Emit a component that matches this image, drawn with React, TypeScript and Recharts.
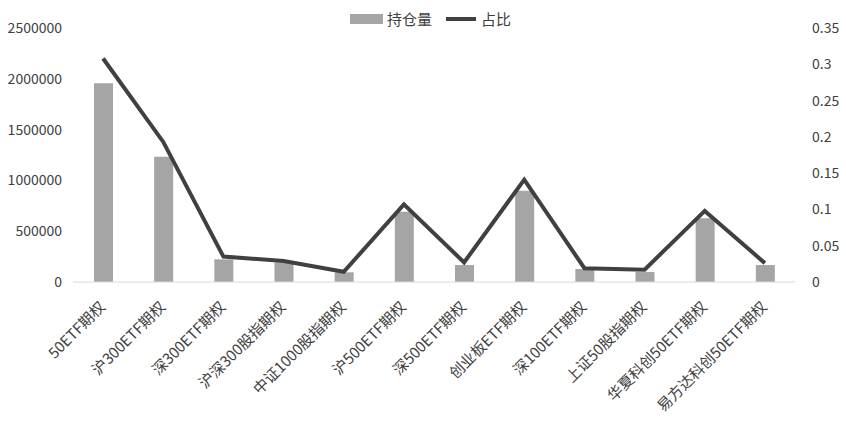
import React from 'react';
import { ComposedChart, Bar, Line, XAxis, YAxis } from 'recharts';

const categories = [
  '50ETF期权', '沪300ETF期权', '深300ETF期权', '沪深300股指期权', '中证1000股指期权', '沪500ETF期权',
  '深500ETF期权', '创业板ETF期权', '深100ETF期权', '上证50股指期权', '华夏科创50ETF期权', '易方达科创50ETF期权',
];
const holdings = [1955000, 1233000, 223000, 192000, 95000, 692000, 167000, 899000, 128000, 98000, 627000, 167000];
const shares = [0.308, 0.193, 0.035, 0.029, 0.014, 0.107, 0.027, 0.141, 0.019, 0.017, 0.098, 0.026];
const leftTicks = [0, 500000, 1000000, 1500000, 2000000, 2500000];
const rightTicks = [0, 0.05, 0.1, 0.15, 0.2, 0.25, 0.3, 0.35];
const seriesNames = ['持仓量', '占比'];

const data = categories.map((name, i) => ({ name, holding: holdings[i], share: shares[i] }));

const FONT = "'Noto Sans CJK SC', sans-serif";
const TEXT = '#404040';

const LegendBox = () => (
  <div style={{ position: 'absolute', left: 350, top: 9, display: 'flex', alignItems: 'center', fontFamily: FONT, fontSize: 15, color: TEXT, lineHeight: '20px' }}>
    <span style={{ display: 'inline-block', width: 33, height: 10, background: '#a5a5a5', marginRight: 4 }} />
    <span>{seriesNames[0]}</span>
    <span style={{ display: 'inline-block', width: 30, height: 4, background: '#404040', marginLeft: 14, marginRight: 5 }} />
    <span>{seriesNames[1]}</span>
  </div>
);

const XTick = (props: any) => {
  const { x, y, payload } = props;
  const ax = x + 3;
  const ay = y + 18;
  return (
    <text x={ax} y={ay} transform={`rotate(-45, ${ax}, ${ay})`} textAnchor="end" fontSize={15} fill={TEXT} fontFamily={FONT}>
      {payload.value}
    </text>
  );
};

export default function App() {
  return (
    <div style={{ position: 'absolute', left: 0, top: 0, width: 846, height: 428, background: '#fff' }}>
      <ComposedChart width={846} height={428} data={data} margin={{ top: 28, right: 0, bottom: 0, left: 0 }}>
        <XAxis
          dataKey="name"
          interval={0}
          height={146}
          tick={<XTick />}
          tickLine={false}
          axisLine={{ stroke: '#d9d9d9', strokeWidth: 1 }}
        />
        <YAxis
          yAxisId="left"
          orientation="left"
          width={73}
          domain={[0, 2500000]}
          ticks={leftTicks}
          tickLine={false}
          axisLine={false}
          tickSize={0}
          tickMargin={11}
          tick={{ fontSize: 14, fill: TEXT, fontFamily: FONT }}
          interval={0}
        />
        <YAxis
          yAxisId="right"
          orientation="right"
          width={51}
          domain={[0, 0.35]}
          ticks={rightTicks}
          tickLine={false}
          axisLine={false}
          tickSize={0}
          tickMargin={17}
          tick={{ fontSize: 14, fill: TEXT, fontFamily: FONT, textAnchor: 'start' }}
          interval={0}
        />
        <Bar yAxisId="left" dataKey="holding" name={seriesNames[0]} fill="#a5a5a5" barSize={19} isAnimationActive={false} />
        <Line yAxisId="right" dataKey="share" name={seriesNames[1]} type="linear" stroke="#404040" strokeWidth={4} dot={false} activeDot={false} isAnimationActive={false} />
      </ComposedChart>
      <LegendBox />
    </div>
  );
}
